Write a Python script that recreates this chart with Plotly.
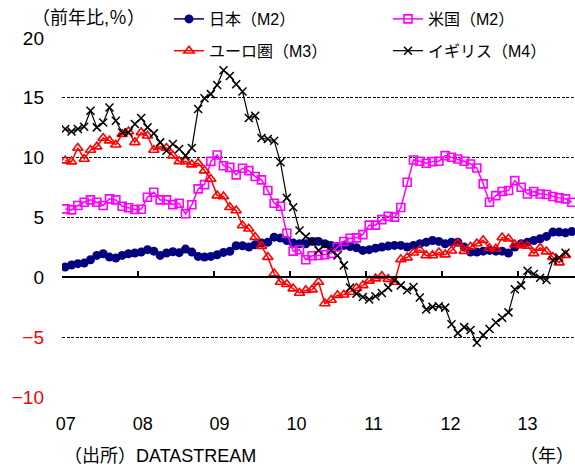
import plotly.graph_objects as go

# ---------------- data (year-on-year %, monthly from Jan 2007) ----------------
year_labels = ["07", "08", "09", "10", "11", "12", "13"]
y_tick_vals = [-10, -5, 0, 5, 10, 15, 20]

japan_m2 = [0.86, 1.03, 1.14, 1.19, 1.47, 1.83, 1.97, 1.69, 1.61, 1.83, 1.97, 2.03,
            2.11, 2.31, 2.19, 1.83, 2.03, 2.14, 2.06, 2.36, 2.11, 1.75, 1.69, 1.75,
            1.89, 2.08, 2.17, 2.64, 2.64, 2.53, 2.72, 2.86, 2.94, 3.36, 3.28, 3.08,
            2.86, 2.81, 2.81, 3.0, 3.0, 2.81, 2.67, 2.58, 2.67, 2.58, 2.47, 2.25,
            2.31, 2.44, 2.53, 2.61, 2.67, 2.67, 2.53, 2.67, 2.81, 2.94, 3.08, 3.0,
            2.81, 2.94, 2.94, 2.53, 2.11, 2.11, 2.19, 2.25, 2.19, 2.19, 2.03, 2.53,
            2.81, 2.94, 3.08, 3.22, 3.42, 3.78, 3.78, 3.72, 3.83]

us_m2 = [5.72, 5.64, 6.0, 6.28, 6.47, 6.28, 6.0, 6.56, 6.47, 5.94, 5.81, 5.67,
         5.69, 6.69, 7.11, 6.47, 6.47, 6.08, 6.19, 5.31, 6.06, 7.39, 7.75, 9.69,
         10.22, 9.33, 9.19, 8.56, 9.11, 8.92, 8.42, 8.14, 7.25, 6.19, 5.94, 3.69,
         2.19, 2.3, 1.47, 1.8, 1.83, 1.89, 2.0, 2.53, 3.0, 3.27, 3.3, 3.57,
         4.36, 4.36, 4.82, 5.1, 5.03, 5.83, 7.94, 9.81, 9.7, 9.53, 9.67, 9.7,
         10.17, 10.03, 9.89, 9.7, 9.47, 9.14, 7.81, 6.28, 6.83, 7.17, 7.25, 8.08,
         7.53, 6.97, 7.17, 6.97, 6.92, 6.75, 6.64, 6.56, 6.28]

euro_m3 = [9.75, 9.67, 10.81, 9.89, 10.64, 10.92, 11.64, 11.42, 11.08, 11.97, 12.19, 11.28,
           12.11, 11.83, 10.64, 10.92, 10.81, 10.17, 9.69, 9.69, 9.42, 9.53, 8.92, 8.22,
           6.83, 6.75, 5.86, 5.58, 4.33, 4.06, 3.36, 2.61, 1.69, 0.31, -0.39, -0.58,
           -0.94, -1.31, -1.08, -1.03, -0.39, -2.19, -1.9, -1.5, -1.45, -1.22, -0.9, -0.67,
           -0.3, -0.11, 0.1, -0.15, -0.39, 1.5, 1.65, 2.05, 2.28, 1.83, 1.83, 2.07,
           1.9, 2.22, 2.85, 2.19, 2.55, 2.83, 3.1, 2.43, 2.39, 3.33, 3.22, 2.74,
           2.67, 2.62, 2.0, 2.46, 2.15, 1.69, 1.23, 1.86]

uk_m4 = [12.39, 12.19, 12.39, 12.58, 13.92, 12.53, 12.94, 14.19, 13.08, 12.11, 12.11, 12.81,
         13.31, 12.53, 12.03, 11.28, 10.58, 11.14, 10.72, 10.17, 10.81, 14.06, 14.97, 15.31,
         16.08, 17.31, 16.83, 16.14, 15.53, 13.31, 13.5, 11.64, 11.56, 11.42, 9.61, 6.64,
         5.86, 3.92, 3.4, 3.0, 2.25, 2.7, 2.25, 1.83, 1.0, -0.86, -1.36, -1.64,
         -1.86, -1.58, -1.31, -0.86, -0.25, -0.67, -1.08, -0.81, -1.69, -2.69, -2.47, -2.42,
         -2.53, -3.92, -4.66, -4.16, -4.4, -5.47, -4.83, -4.32, -3.77, -3.38, -2.93, -1.0,
         -0.67, 0.55, 0.28, -0.04, -0.22, 1.42, 1.65, 2.05]

series_names = ["日本（M2）", "米国（M2）", "ユーロ圏（M3）", "イギリス（M4）"]

# ---------------- styling ----------------
FONT = "Liberation Sans, Arial, Noto Sans CJK JP"
W, H = 575, 466
ML, MR, MT, MB = 62, 0, 38, 69
Y_MIN, Y_MAX = -10, 20
n_months = len(japan_m2)

fig = go.Figure()

styles = [
    (japan_m2, dict(color="#000080", width=1.5), dict(symbol="circle", size=9, color="#000080"), "legend"),
    (us_m2, dict(color="#FF00FF", width=1.5), dict(symbol="square-open", size=8, color="#FF00FF",
                                                   line=dict(width=1.6, color="#FF00FF")), "legend2"),
    (euro_m3, dict(color="#FF0000", width=1.5), dict(symbol="triangle-up-open", size=9, color="#FF0000",
                                                     line=dict(width=1.6, color="#FF0000")), "legend"),
    (uk_m4, dict(color="#000000", width=1.2), dict(symbol="x-thin", size=8, color="#000000",
                                                   line=dict(width=1.5, color="#000000")), "legend2"),
]

for name, (vals, line, marker, leg) in zip(series_names, styles):
    fig.add_trace(go.Scatter(
        x=list(range(len(vals))), y=vals, name=name, mode="lines+markers",
        line=line, marker=marker, legend=leg, legendgroup=name,
    ))

# empty trace so that the label axis is drawn
fig.add_trace(go.Scatter(x=[], y=[], xaxis="x2", showlegend=False, hoverinfo="skip"))

tick_text = []
for v in y_tick_vals:
    s = str(v).replace("-", "−")
    tick_text.append(f"<span style='color:#FF0000'>{s}</span>" if v < 0 else s)

zero_pos = (0 - Y_MIN) / (Y_MAX - Y_MIN)
plot_h = H - MT - MB
plot_w = W - ML - MR


def py(px):  # pixel row -> paper y
    return (H - MB - px) / plot_h


def pxx(px):  # pixel column -> paper x
    return (px - ML) / plot_w


legend_common = dict(xref="container", yref="container", xanchor="left", yanchor="top",
                     bgcolor="rgba(0,0,0,0)", font=dict(size=16, family=FONT),
                     tracegroupgap=8, traceorder="grouped", itemclick=False)

fig.update_layout(
    width=W, height=H, margin=dict(l=ML, r=MR, t=MT, b=MB, autoexpand=False),
    plot_bgcolor="white", paper_bgcolor="white",
    font=dict(family=FONT, color="black", size=16),
    xaxis=dict(range=[-0.5, n_months - 0.5], tickmode="array",
               tickvals=[12 * k - 0.5 for k in range(len(year_labels))],
               ticks="inside", ticklen=6, tickwidth=1.5, tickcolor="black",
               showticklabels=False, showline=True, linecolor="black", linewidth=1.5,
               showgrid=False, zeroline=False, anchor="free", position=zero_pos,
               automargin=False),
    xaxis2=dict(overlaying="x", range=[-0.58, n_months - 1.58], tickmode="array",
                tickvals=[12 * k for k in range(len(year_labels))], ticktext=year_labels,
                anchor="free", position=0, side="bottom", showline=False, showgrid=False,
                zeroline=False, ticks="", ticklabelstandoff=14, automargin=False,
                tickfont=dict(size=18, family=FONT, color="black")),
    yaxis=dict(range=[Y_MIN, Y_MAX], tickmode="array", tickvals=y_tick_vals, ticktext=tick_text,
               showgrid=True, gridcolor="black", gridwidth=1, griddash="3px,1.5px",
               zeroline=False, showline=False, ticks="", ticklabelstandoff=17, automargin=False,
               tickfont=dict(size=19, family=FONT, color="black")),
    legend=dict(x=169 / W, y=1 - 2 / H, **legend_common),
    legend2=dict(x=388 / W, y=1 - 2 / H, **legend_common),
    showlegend=True,
    shapes=[dict(type="rect", xref="paper", yref="paper", x0=pxx(128), x1=1.0,
                 y0=py(66), y1=py(2), fillcolor="white", line=dict(width=0), layer="between")],
    annotations=[
        dict(text="（前年比,％）", xref="paper", yref="paper", x=pxx(30), y=py(18),
             xanchor="left", yanchor="middle", showarrow=False, font=dict(size=18, family=FONT)),
        dict(text="（出所）DATASTREAM", xref="paper", yref="paper", x=pxx(62), y=py(456),
             xanchor="left", yanchor="middle", showarrow=False, font=dict(size=18, family=FONT)),
        dict(text="（年）", xref="paper", yref="paper", x=pxx(518), y=py(456),
             xanchor="left", yanchor="middle", showarrow=False, font=dict(size=18, family=FONT)),
    ],
)

fig.write_html("out.html", config={"displayModeBar": False},
               post_script="document.body.style.margin='0';")
